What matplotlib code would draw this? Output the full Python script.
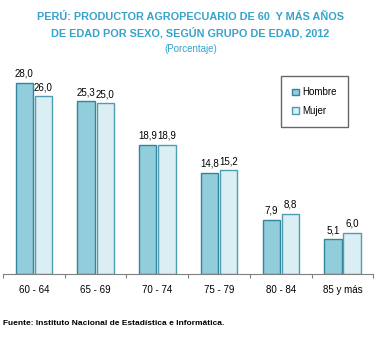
import numpy as np
import matplotlib.pyplot as plt
from matplotlib.patches import Patch

grupos = ["60 - 64", "65 - 69", "70 - 74", "75 - 79", "80 - 84", "85 y más"]
hombre = [28.0, 25.3, 18.9, 14.8, 7.9, 5.1]
mujer = [26.0, 25.0, 18.9, 15.2, 8.8, 6.0]

fam = ["Liberation Sans", "DejaVu Sans"]
plt.rcParams["font.family"] = fam

fig = plt.figure(figsize=(3.81, 3.37), dpi=100)
ax = fig.add_axes([0.008, 0.187, 0.972, 0.608])

x = np.arange(len(grupos))
w = 0.28
b1 = ax.bar(x - w / 2 - 0.015, hombre, w, color="#92CDDC", edgecolor="#31859C", linewidth=1)
b2 = ax.bar(x + w / 2 + 0.015, mujer, w, color="#DAEEF3", edgecolor="#4F9DB0", linewidth=1)

for bars, vals in [(b1, hombre), (b2, mujer)]:
    for r, v in zip(bars, vals):
        ax.text(r.get_x() + r.get_width() / 2, v + 0.6, f"{v:.1f}".replace(".", ","),
                ha="center", va="bottom", fontsize=7)

ax.set_xlim(-0.5, len(grupos) - 0.5)
ax.set_ylim(0, 30)
ax.set_yticks([])
ax.set_xticks(np.arange(-0.5, len(grupos)), minor=False)
ax.set_xticklabels([])
ax.set_xticks(x, minor=True)
ax.set_xticklabels(grupos, minor=True, fontsize=7)
ax.tick_params(axis="x", which="major", length=3, color="#808080", direction="out")
ax.tick_params(axis="x", which="minor", length=0, pad=8)
for s in ["top", "left", "right"]:
    ax.spines[s].set_visible(False)
ax.spines["bottom"].set_color("#808080")

handles = [Patch(facecolor="#92CDDC", edgecolor="#31859C", label="Hombre"),
           Patch(facecolor="#DAEEF3", edgecolor="#4F9DB0", label="Mujer")]
leg = fig.legend(handles=handles, loc="upper left", bbox_to_anchor=(0.738, 0.774),
                 frameon=True, fancybox=False, fontsize=7, handlelength=0.7,
                 handleheight=0.7, handletextpad=0.3, labelspacing=0.85,
                 borderpad=1.15, borderaxespad=0)
leg.get_frame().set_edgecolor("#404040")
leg.get_frame().set_linewidth(1)

tc = "#36A3CB"
fig.text(0.5, 0.95, "PERÚ: PRODUCTOR AGROPECUARIO DE 60  Y MÁS AÑOS", ha="center", va="center",
         fontsize=7.8, fontweight="bold", color=tc)
fig.text(0.5, 0.902, "DE EDAD POR SEXO, SEGÚN GRUPO DE EDAD, 2012", ha="center", va="center",
         fontsize=7.8, fontweight="bold", color=tc)
fig.text(0.5, 0.855, "(Porcentaje)", ha="center", va="center", fontsize=7, color=tc)
fig.text(0.008, 0.04, "Fuente: Instituto Nacional de Estadística e Informática.", ha="left",
         va="center", fontsize=6, fontweight="bold")

fig.savefig("out.png", dpi=100)
